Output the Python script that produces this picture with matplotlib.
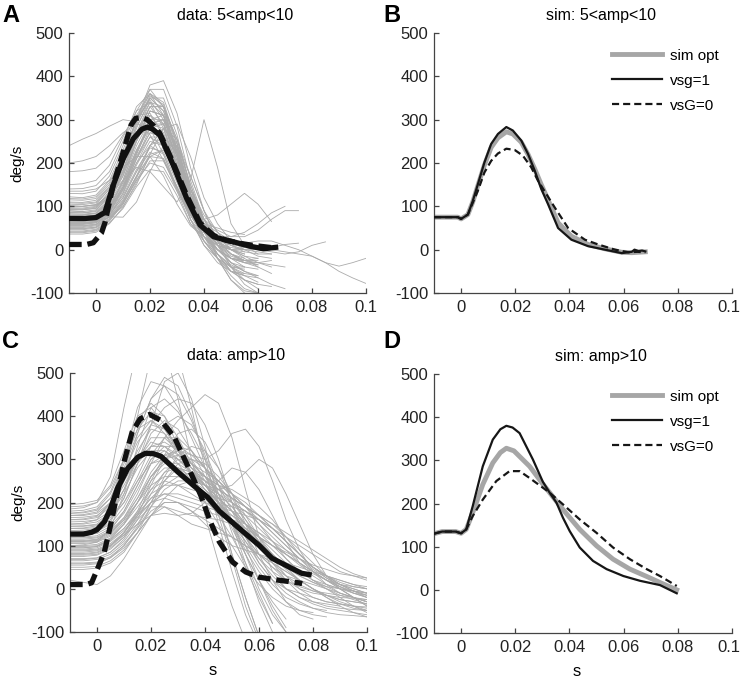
import numpy as np
import matplotlib.pyplot as plt
from matplotlib.transforms import ScaledTranslation

plt.rcParams['font.family'] = ['Liberation Sans', 'DejaVu Sans']
plt.rcParams['axes.unicode_minus'] = False

# ---- common time grid for the single traces (s) ----
t_grid = np.linspace(-0.01, 0.1, 23)

# ---- panel A: single traces, 5<amp<10 (deg/s, sampled on t_grid) ----
traces_a = [
    [240, 255, 268, 285, 300, 295, 265, 205, 140, 80, 45, 25, 15],
    [200, 205, 215, 240, 270, 290, 280, 220, 140, 70, 30, 10, 0, -5],
    [180, 182, 188, 215, 265, 310, 315, 260, 170, 85, 40, 15, 0, -10],
    [150, 152, 160, 195, 260, 320, 340, 280, 175, 80, 30, 0, -20, -25],
    [140, 141, 148, 180, 250, 330, 360, 310, 195, 90, 30, 0, -20, -30, -35],
    [130, 129, 135, 170, 240, 320, 370, 330, 215, 90, 20, -20, -50, -60, -65],
    [122, 120, 126, 160, 230, 310, 360, 340, 245, 130, 50, 10, -10, -20],
    [115, 114, 118, 150, 220, 300, 350, 320, 225, 110, 40, 0, -20, -25, -25],
    [108, 107, 110, 145, 215, 300, 370, 370, 285, 160, 70, 10, -30, -50, -60],
    [102, 100, 104, 140, 210, 300, 380, 390, 315, 190, 90, 20, -20, -40],
    [97, 96, 100, 130, 195, 280, 350, 350, 265, 140, 50, -10, -50, -70, -80],
    [93, 92, 95, 125, 185, 270, 340, 330, 245, 130, 60, 20, 0, -10],
    [89, 88, 92, 120, 180, 260, 330, 330, 255, 150, 70, 10, -40, -70, -90],
    [86, 85, 88, 115, 175, 255, 320, 310, 225, 120, 50, 10, 0, 5],
    [83, 82, 85, 110, 170, 250, 310, 290, 205, 110, 60, 30, 10, 0, -5, -10],
    [80, 80, 83, 108, 160, 240, 300, 300, 225, 130, 70, 30, 0, -20, -40, -55],
    [78, 77, 80, 104, 155, 230, 290, 280, 195, 100, 50, 30, 30, 40, 60, 85, 100],
    [76, 75, 78, 100, 150, 225, 290, 290, 215, 120, 60, 20, -10, -25, -35],
    [73, 73, 76, 98, 145, 215, 270, 260, 185, 100, 60, 40, 20, 10, 0, -5, -10, -5, 10, 18],
    [71, 70, 74, 96, 145, 220, 290, 300, 235, 130, 50, -20, -70, -95, -100],
    [69, 68, 71, 93, 140, 210, 270, 260, 175, 80, 30, 0, -20, -30],
    [66, 66, 69, 90, 135, 200, 260, 260, 195, 110, 60, 30, 10, 0, 0, 0, -5, -10, -15, -30, -38, -30, -20],
    [63, 63, 66, 88, 130, 195, 250, 240, 165, 90, 50, 30, 20, 15, 20, 20, 10, 0, -15, -30, -50, -65, -78],
    [61, 61, 64, 85, 125, 185, 235, 225, 155, 80, 30, -10, -40, -60, -75],
    [59, 59, 62, 82, 120, 180, 225, 210, 135, 60, 20, -10, -35, -50],
    [56, 56, 59, 80, 120, 180, 240, 260, 225, 140, 70, 20, -10, -25],
    [53, 53, 57, 77, 115, 170, 215, 210, 145, 80, 50, 30, 15, 5, 0, 5, 12, 15],
    [51, 51, 55, 75, 112, 168, 220, 230, 185, 110, 60, 20, -10, -25],
    [49, 49, 52, 72, 108, 160, 200, 190, 135, 80, 60, 50, 40, 35],
    [46, 46, 50, 70, 110, 170, 240, 280, 255, 170, 90, 20, -40, -80, -100],
    [43, 43, 47, 68, 105, 160, 215, 230, 185, 110, 60, 20, -10, -30, -40],
    [41, 41, 45, 66, 105, 165, 240, 280, 245, 150, 60, -20, -70, -100],
    [39, 39, 43, 62, 95, 145, 185, 180, 125, 60, 30, 10, 0, 0],
    [36, 36, 40, 60, 98, 155, 205, 205, 145, 70, 20, -20, -60, -90, -100],
    [90, 88, 82, 76, 75, 110, 180, 240, 240, 170, 90, 40, 0, -15, -20],
    [100, 100, 104, 125, 160, 190, 180, 145, 110, 160, 300, 190, 60, 10, -10],
    [62, 62, 65, 75, 100, 150, 220, 280, 290, 215, 120, 60, 20, 0, -15, -20],
    [135, 135, 140, 160, 190, 215, 215, 170, 105, 55, 30, 15, 5, 0],
    [72, 72, 75, 95, 140, 200, 240, 220, 145, 85, 70, 80, 105, 130, 105, 65],
    [100, 100, 102, 120, 170, 250, 320, 310, 225, 120, 70, 45, 30, 30, 45, 70, 90, 90],
    [110, 109, 114, 145, 210, 295, 350, 320, 225, 120, 50, 10, -15, -25, -30, -35, -40],
    [66, 65, 68, 92, 145, 225, 300, 310, 235, 130, 50, 0, -30, -50, -65, -80, -90],
    [95, 94, 98, 135, 210, 300, 360, 330, 225, 100, 30, -20, -50, -60],
    [85, 85, 90, 125, 195, 290, 355, 335, 235, 120, 45, 0, -30, -40, -45],
    [60, 60, 64, 95, 160, 250, 320, 310, 215, 100, 30, -10, -40, -55, -60],
    [75, 74, 78, 110, 180, 270, 330, 290, 175, 70, 10, -20, -40, -45],
    [105, 104, 108, 140, 200, 270, 310, 270, 175, 80, 30, 0, -20, -25, -20],
    [55, 55, 58, 85, 140, 220, 290, 300, 235, 140, 80, 40, 10, -5, -10, -10],
    [118, 117, 122, 155, 220, 300, 345, 300, 185, 70, 10, -30, -50, -55],
    [48, 48, 52, 78, 130, 210, 280, 290, 215, 110, 40, -10, -50, -70, -80, -85],
    [80, 80, 84, 115, 180, 265, 330, 330, 255, 140, 60, 10, -20, -30, -30, -25],
    [92, 92, 96, 130, 200, 285, 340, 310, 205, 90, 20, -20, -40, -40],
    [70, 70, 74, 100, 155, 230, 280, 250, 165, 80, 40, 20, 10, 10, 10],
    [58, 58, 62, 88, 140, 210, 260, 240, 165, 90, 50, 20, 0, -15, -30, -40],
]

# panel A: averages
a_data_t = [-0.01, -0.004, 0.0, 0.0033, 0.0064, 0.0101, 0.0138, 0.017, 0.019, 0.021,
            0.0237, 0.0286, 0.0336, 0.0385, 0.0435, 0.047, 0.051, 0.057, 0.062, 0.0675]
a_data_v = [72, 72, 74, 86, 149, 210, 256, 278, 283, 278,
            264, 195, 118, 57, 30, 24, 18, 8, 2, 6]
a_dash_t = [-0.01, -0.0035, -0.001, 0.002, 0.0033, 0.0064, 0.0101, 0.013, 0.0147, 0.017, 0.019,
            0.0215, 0.0237, 0.0286, 0.0336, 0.0385, 0.0435, 0.048, 0.053, 0.058, 0.062, 0.066]
a_dash_v = [12, 12, 16, 38, 62, 150, 226, 288, 303, 305, 300,
            285, 268, 200, 125, 62, 33, 22, 15, 10, 7, 4]

# ---- panel C: single traces, amp>10 ----
traces_c = [
    [195, 198, 205, 240, 320, 400, 420, 380, 320, 270, 230, 190, 150, 110, 70, 40, 20, 5, -5, -10, -15, -20, -25],
    [185, 188, 200, 260, 420, 560, 600, 560, 440, 300, 170, 60, -40, -120],
    [175, 178, 185, 220, 290, 370, 410, 400, 350, 290, 240, 200, 160, 120, 80, 50, 30, 20, 10, 0, -10, -20, -30],
    [170, 172, 178, 210, 280, 360, 440, 490, 470, 400, 300, 190, 80, -20, -110],
    [165, 166, 170, 195, 250, 320, 370, 360, 320, 280, 250, 220, 190, 150, 110, 80, 50, 30, 15, 0, -15, -25, -35],
    [160, 160, 165, 190, 240, 300, 340, 330, 300, 270, 240, 210, 180, 150, 120, 90, 60, 40, 20, 5, -10, -20, -30],
    [155, 156, 160, 180, 230, 290, 330, 340, 320, 290, 260, 240, 220, 200, 170, 140, 110, 80, 50, 30, 10, 0, -10],
    [150, 150, 155, 175, 220, 280, 320, 320, 290, 250, 210, 170, 120, 60, -10, -80],
    [145, 145, 148, 165, 200, 250, 290, 310, 300, 280, 260, 240, 230, 210, 190, 160, 120, 80, 50, 30, 10, -5, -15],
    [140, 140, 142, 160, 200, 260, 330, 380, 400, 380, 320, 240, 150, 60, -30, -100],
    [135, 136, 140, 160, 210, 290, 380, 480, 500, 440, 330, 200, 80, -20, -110],
    [130, 130, 133, 150, 190, 250, 310, 350, 350, 320, 280, 240, 200, 160, 120, 80, 50, 30, 15, 5, 0, -5, -10],
    [125, 126, 128, 145, 180, 240, 300, 320, 300, 270, 240, 210, 180, 150, 120, 100, 80, 60, 40, 20, 0, -20, -40],
    [120, 120, 123, 140, 175, 230, 290, 300, 280, 250, 220, 200, 190, 180, 160, 130, 100, 70, 40, 20, 5, -10, -20],
    [118, 118, 120, 135, 165, 210, 260, 290, 290, 270, 250, 230, 210, 190, 170, 150, 120, 90, 60, 30, 10, -5, -20],
    [115, 115, 118, 132, 160, 200, 240, 260, 260, 250, 240, 230, 240, 270, 300, 280, 220, 150, 80, 30, 0, -20, -30],
    [112, 112, 115, 130, 165, 220, 290, 350, 390, 420, 450, 430, 350, 230, 120, 40, 0, -20, -30, -35, -40],
    [110, 110, 112, 128, 160, 210, 270, 310, 320, 310, 300, 320, 360, 370, 330, 250, 160, 90, 40, 10, -10, -20, -30],
    [108, 108, 110, 125, 155, 200, 250, 280, 280, 260, 240, 220, 200, 180, 160, 140, 120, 100, 80, 60, 40, 30, 20],
    [105, 105, 108, 122, 150, 190, 230, 250, 240, 220, 200, 180, 160, 140, 120, 100, 85, 70, 55, 45, 35, 30, 25],
    [100, 100, 103, 118, 150, 200, 260, 300, 320, 300, 250, 170, 70, -40, -120],
    [98, 98, 100, 115, 140, 180, 220, 240, 240, 230, 220, 210, 200, 180, 150, 120, 90, 60, 40, 20, 0, -20, -40],
    [95, 95, 98, 112, 140, 175, 210, 220, 210, 200, 190, 180, 170, 150, 130, 100, 70, 40, 20, 0, -20, -40, -55],
    [92, 92, 95, 110, 135, 170, 200, 210, 200, 180, 160, 140, 120, 100, 80, 60, 40, 20, 0, -20, -40, -55, -65],
    [90, 90, 92, 105, 130, 170, 210, 240, 260, 270, 260, 220, 160, 80, 0, -60, -100],
    [85, 85, 88, 100, 130, 180, 250, 310, 360, 370, 340, 280, 200, 120, 60, 20, 0, -10, -20, -30, -35, -40, -45],
    [80, 80, 83, 98, 125, 165, 200, 220, 220, 210, 200, 190, 180, 170, 160, 140, 110, 80, 50, 30, 15, 5, 0],
    [78, 78, 80, 95, 120, 160, 190, 190, 170, 150, 140, 130, 120, 100, 80, 60, 40, 20, 0, -15, -30, -40, -50],
    [75, 75, 78, 92, 120, 170, 240, 300, 330, 320, 280, 220, 150, 80, 20, -30, -70],
    [70, 70, 72, 85, 110, 150, 200, 250, 290, 300, 290, 260, 220, 170, 120, 70, 30, 0, -20, -30, -35, -40, -42],
    [65, 65, 68, 80, 105, 140, 180, 200, 200, 190, 180, 170, 160, 150, 130, 110, 90, 70, 50, 30, 20, 10, 0],
    [60, 60, 62, 75, 100, 140, 190, 230, 250, 250, 230, 200, 160, 110, 60, 20, -10, -30, -45, -55, -60, -62, -65],
    [55, 55, 58, 72, 100, 145, 200, 260, 310, 330, 320, 280, 220, 150, 80, 20, -30, -60, -70],
    [50, 50, 52, 65, 90, 130, 170, 190, 180, 170, 165, 160, 150, 140, 120, 100, 80, 60, 40, 20, 5, -5, -15],
    [45, 45, 48, 60, 85, 130, 190, 250, 280, 270, 240, 200, 150, 100, 50, 10, -20, -35, -45, -50],
    [20, 15, 10, 30, 70, 120, 170, 200, 200, 180, 150, 120, 100, 90, 80, 70, 60, 50, 40, 30, 20, 10, 5],
    [150, 152, 160, 200, 300, 420, 480, 470, 420, 350, 280, 210, 150, 90, 40, 0, -30, -50, -60, -65],
    [130, 132, 138, 170, 250, 360, 440, 470, 450, 390, 310, 220, 130, 50, -20, -80],
    [120, 122, 130, 170, 260, 400, 540, 600, 540, 420, 280, 150, 40, -60, -130],
    [100, 102, 108, 140, 220, 330, 420, 440, 410, 360, 300, 240, 180, 120, 70, 30, 0, -20, -35, -45, -50, -55, -60],
    [88, 88, 90, 102, 125, 150, 170, 175, 170, 175, 200, 250, 280, 270, 230, 170, 110, 60, 30, 10, 0, -5, -10],
    [170, 170, 175, 200, 250, 300, 330, 330, 310, 290, 270, 250, 220, 190, 150, 110, 70, 40, 20, 10, 0, -10, -15],
    [190, 192, 200, 235, 300, 370, 390, 360, 310, 270, 240, 210, 180, 140, 100, 60, 30, 10, -5, -15, -25, -30, -35],
    [180, 182, 190, 225, 300, 390, 430, 400, 330, 260, 200, 150, 100, 50, 10, -20, -40, -50, -55],
    [160, 162, 168, 200, 270, 350, 390, 370, 320, 270, 230, 200, 170, 140, 110, 80, 50, 20, 0, -20, -35, -45, -50],
    [145, 146, 150, 175, 230, 300, 350, 350, 320, 280, 240, 200, 160, 120, 80, 50, 20, 0, -10, -15, -20, -22, -25],
    [128, 128, 132, 155, 210, 290, 360, 390, 370, 320, 260, 200, 140, 80, 20, -40, -90],
    [110, 110, 114, 135, 180, 240, 300, 330, 330, 310, 280, 250, 220, 190, 160, 130, 100, 70, 45, 25, 10, 0, -10],
    [95, 95, 98, 115, 150, 200, 260, 300, 310, 290, 260, 230, 200, 170, 140, 110, 80, 55, 35, 20, 10, 5, 0],
    [82, 82, 85, 100, 130, 175, 230, 270, 280, 270, 250, 230, 210, 190, 170, 150, 130, 110, 90, 70, 50, 35, 25],
    [68, 68, 71, 85, 115, 160, 220, 270, 300, 300, 280, 250, 210, 160, 110, 60, 20, -10, -30, -40, -45, -48, -50],
    [140, 141, 146, 170, 230, 310, 380, 420, 440, 430, 380, 300, 200, 100, 20, -50, -100],
    [175, 176, 182, 210, 270, 340, 380, 370, 330, 290, 260, 230, 210, 190, 170, 140, 110, 80, 50, 25, 5, -10, -20],
    [58, 58, 60, 72, 95, 130, 170, 210, 240, 250, 240, 220, 190, 150, 110, 75, 45, 20, 0, -15, -25, -30, -35],
]

c_data_t = [-0.01, -0.005, -0.002, 0.0, 0.0027, 0.005, 0.0076, 0.0114, 0.0151, 0.018, 0.021,
            0.0237, 0.0299, 0.036, 0.041, 0.0453, 0.0527, 0.06, 0.0648, 0.071, 0.0758, 0.0795]
c_data_v = [127, 127, 131, 137, 155, 186, 233, 279, 305, 314, 313,
            307, 271, 238, 212, 180, 140, 101, 71, 51, 36, 32]
c_dash_t = [-0.01, -0.004, -0.002, 0.0003, 0.0027, 0.005, 0.0076, 0.01, 0.013, 0.016, 0.0195,
            0.0237, 0.0286, 0.0335, 0.0384, 0.042, 0.0453, 0.0502, 0.0551, 0.06, 0.0673, 0.0746, 0.076]
c_dash_v = [10, 10, 14, 48, 85, 147, 224, 294, 363, 394, 404,
            390, 352, 286, 217, 155, 109, 62, 39, 27, 20, 14, 12]

# ---- panel B: simulations 5<amp<10 ----
b_t1 = [-0.01, -0.005, -0.0012, 0.0, 0.0025, 0.0043, 0.0062, 0.0086, 0.0111, 0.0136, 0.0167, 0.0191,
        0.0222, 0.0247, 0.0272, 0.0296, 0.0321, 0.0358, 0.0407, 0.0469, 0.0531, 0.0593, 0.063, 0.064,
        0.0655, 0.0668, 0.068]
b_vsg1 = [75, 75, 75, 71, 81, 112, 151, 201, 244, 267, 283, 275,
          252, 221, 182, 140, 105, 50, 23, 8, 0, -8, -5, 0,
          -3, -2, -4]
b_t2 = [-0.01, -0.005, -0.0012, 0.0, 0.0025, 0.0043, 0.0062, 0.0086, 0.0111, 0.0136, 0.0167, 0.0191,
        0.0222, 0.0247, 0.0272, 0.0296, 0.0321, 0.0358, 0.0407, 0.0469, 0.0531, 0.0593, 0.063, 0.068]
b_opt = [75, 75, 75, 71, 81, 110, 148, 195, 236, 258, 272, 267,
         248, 220, 186, 150, 115, 62, 31, 12, 2, -6, -7, -5]
b_t3 = [-0.01, -0.005, -0.0012, 0.0, 0.0025, 0.0043, 0.0062, 0.0086, 0.0111, 0.0136, 0.0167, 0.0198,
        0.0228, 0.0259, 0.0284, 0.0315, 0.0346, 0.0395, 0.0457, 0.0506, 0.0568, 0.0617, 0.065, 0.068]
b_vsg0 = [75, 75, 75, 71, 81, 108, 136, 178, 205, 222, 233, 230,
          217, 190, 159, 128, 97, 50, 23, 12, 0, -6, -5, -6]

# ---- panel D: simulations amp>10 ----
d_t1 = [-0.01, -0.007, -0.002, 0.0, 0.0019, 0.0043, 0.008, 0.0117, 0.0145, 0.0167, 0.019, 0.0216,
        0.0265, 0.0302, 0.0327, 0.0352, 0.0376, 0.0401, 0.0438, 0.0487, 0.0537, 0.0599, 0.066,
        0.0734, 0.076, 0.0796]
d_vsg1 = [130, 135, 135, 131, 140, 194, 286, 348, 372, 380, 376, 363,
          302, 250, 225, 202, 167, 136, 98, 67, 48, 32, 21,
          11, 3, -8]
d_t2 = [-0.01, -0.007, -0.002, 0.0, 0.0019, 0.0043, 0.008, 0.0117, 0.0145, 0.0167, 0.0195, 0.0253,
        0.0302, 0.0327, 0.0376, 0.0438, 0.05, 0.0561, 0.0623, 0.0685, 0.0734, 0.0796]
d_opt = [130, 135, 135, 131, 140, 179, 244, 294, 318, 328, 322, 286,
         245, 225, 186, 140, 102, 71, 48, 31, 17, 0]
d_t3 = [-0.01, -0.007, -0.002, 0.0, 0.0019, 0.0043, 0.008, 0.013, 0.0179, 0.0216, 0.0253, 0.0327,
        0.0376, 0.0438, 0.05, 0.0561, 0.0623, 0.0685, 0.0734, 0.0796]
d_vsg0 = [130, 135, 135, 131, 140, 171, 209, 252, 275, 275, 259, 225,
          198, 163, 132, 98, 71, 48, 32, 9]

xticks = [0, 0.02, 0.04, 0.06, 0.08, 0.1]
xticklabels = ['0', '0.02', '0.04', '0.06', '0.08', '0.1']
yticks = [-100, 0, 100, 200, 300, 400, 500]

fig = plt.figure(figsize=(7.41, 6.80), dpi=100)
W, H = 741.0, 680.0
axA = fig.add_axes([69 / W, 1 - 293 / H, 297 / W, 260 / H])
axB = fig.add_axes([434 / W, 1 - 293 / H, 298 / W, 260 / H])
axC = fig.add_axes([70 / W, 1 - 632 / H, 297 / W, 259 / H])
axD = fig.add_axes([434 / W, 1 - 633 / H, 298 / W, 259 / H])

spine_col = '#444444'
for ax in [axA, axB, axC, axD]:
    ax.set_xlim(-0.01, 0.1)
    ax.set_ylim(-100, 500)
    ax.set_xticks(xticks)
    ax.set_xticklabels(xticklabels)
    ax.set_yticks(yticks)
    ax.spines['top'].set_visible(False)
    ax.spines['right'].set_visible(False)
    for s in ['left', 'bottom']:
        ax.spines[s].set_color(spine_col)
        ax.spines[s].set_linewidth(0.9)
    ax.tick_params(direction='in', length=3.5, width=0.9, color=spine_col,
                   labelsize=12, labelcolor='#222222')
    ax.tick_params(axis='x', pad=5)
    ax.tick_params(axis='y', pad=4)

# keep the last x label of the right-hand panels inside the figure
for ax in [axB, axD]:
    lab = ax.get_xticklabels()[-1]
    lab.set_transform(lab.get_transform() + ScaledTranslation(-3 / 100, 0, fig.dpi_scale_trans))

gray_col = '#ababab'
for tr in traces_a:
    axA.plot(t_grid[:len(tr)], tr, color=gray_col, lw=0.6, zorder=1)
axA.plot(a_dash_t, a_dash_v, color='#111111', lw=3.8, ls=(0, (2.4, 1.1)), zorder=3)
axA.plot(a_data_t, a_data_v, color='#111111', lw=3.8, zorder=4, solid_capstyle='butt')

for tr in traces_c:
    axC.plot(t_grid[:len(tr)], tr, color=gray_col, lw=0.6, zorder=1)
axC.plot(c_dash_t, c_dash_v, color='#111111', lw=3.8, ls=(0, (2.4, 1.1)), zorder=3)
axC.plot(c_data_t, c_data_v, color='#111111', lw=3.8, zorder=4, solid_capstyle='butt')

for ax, t1, v1, t2, v2, t3, v3 in [(axB, b_t1, b_vsg1, b_t2, b_opt, b_t3, b_vsg0),
                                    (axD, d_t1, d_vsg1, d_t2, d_opt, d_t3, d_vsg0)]:
    ax.plot(t2, v2, color='#a6a6a6', lw=3.5, label='sim opt', zorder=2)
    ax.plot(t1, v1, color='#161616', lw=1.6, label='vsg=1', zorder=3)
    ax.plot(t3, v3, color='#161616', lw=1.6, ls=(0, (3.2, 1.8)), label='vsG=0', zorder=4)
    ax.legend(loc='upper right', bbox_to_anchor=(0.985, 0.975), frameon=False, fontsize=11,
              handlelength=3.3, handletextpad=0.5, labelspacing=0.72, borderaxespad=0.2)

titles = [(axA, 'data: 5<amp<10'), (axB, 'sim: 5<amp<10'),
          (axC, 'data: amp>10'), (axD, 'sim: amp>10')]
for ax, ttl in titles:
    ax.text(0.56, 1.069, ttl, transform=ax.transAxes, ha='center', va='center', fontsize=11.5)

for ax in [axA, axC]:
    ax.text(-0.175, 0.5, 'deg/s', transform=ax.transAxes, rotation=90,
            ha='center', va='center', fontsize=11)
for ax in [axC, axD]:
    ax.text(0.48, -0.147, 's', transform=ax.transAxes, ha='center', va='center', fontsize=12)

for lbl, x, y in [('A', 2, 16), ('B', 383, 16), ('C', 2, 342), ('D', 383, 342)]:
    fig.text(x / W, 1 - y / H, lbl, fontsize=17, fontweight='bold', ha='left', va='center')

fig.savefig('out.png', dpi=100)
